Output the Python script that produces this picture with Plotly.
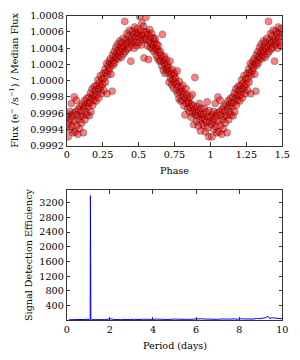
import plotly.graph_objects as go

# Phase-folded light curve (phase 0-1); phases < 0.5 are repeated at phase+1
phase = [
    0.003,0.007,0.011,0.015,0.019,0.022,0.026,0.030,0.033,0.037,0.041,0.044,0.048,
    0.052,0.055,0.059,0.063,0.067,0.070,0.074,0.078,0.081,0.085,0.089,0.092,0.096,
    0.101,0.104,0.108,0.112,0.116,0.119,0.123,0.127,0.131,0.134,0.138,0.142,0.146,
    0.151,0.154,0.158,0.162,0.166,0.169,0.173,0.177,0.181,0.184,0.188,0.192,0.196,
    0.201,0.204,0.208,0.212,0.216,0.219,0.223,0.227,0.231,0.234,0.238,0.242,0.246,
    0.251,0.254,0.258,0.262,0.266,0.269,0.273,0.277,0.281,0.284,0.288,0.292,0.296,
    0.301,0.304,0.308,0.312,0.316,0.319,0.323,0.327,0.331,0.334,0.338,0.342,0.346,
    0.351,0.354,0.358,0.362,0.366,0.369,0.373,0.377,0.381,0.384,0.388,0.392,0.396,
    0.401,0.404,0.408,0.412,0.416,0.419,0.423,0.427,0.431,0.434,0.438,0.442,0.446,
    0.451,0.454,0.458,0.462,0.466,0.469,0.473,0.477,0.481,0.484,0.488,0.492,0.496,
    0.501,0.504,0.508,0.512,0.516,0.519,0.523,0.527,0.531,0.534,0.538,0.542,0.546,
    0.551,0.554,0.558,0.562,0.566,0.569,0.573,0.577,0.581,0.584,0.588,0.592,0.596,
    0.601,0.604,0.608,0.612,0.616,0.619,0.623,0.627,0.631,0.634,0.638,0.642,0.646,
    0.651,0.654,0.658,0.662,0.666,0.669,0.673,0.677,0.681,0.684,0.688,0.692,0.696,
    0.701,0.704,0.708,0.712,0.716,0.719,0.723,0.727,0.731,0.734,0.738,0.742,0.746,
    0.751,0.754,0.758,0.762,0.766,0.769,0.773,0.777,0.781,0.784,0.788,0.792,0.796,
    0.801,0.804,0.808,0.812,0.816,0.819,0.823,0.827,0.831,0.834,0.838,0.842,0.846,
    0.851,0.854,0.858,0.862,0.866,0.869,0.873,0.877,0.881,0.884,0.888,0.892,0.896,
    0.901,0.904,0.908,0.912,0.916,0.919,0.923,0.927,0.931,0.934,0.938,0.942,0.946,
    0.951,0.954,0.958,0.962,0.966,0.969,0.973,0.977,0.981,0.984,0.988,0.992,0.996,
]
flux = [
    0.99955,0.99946,0.99931,0.99958,0.99949,0.99962,0.99940,0.99953,0.99972,0.99944,0.99957,0.99936,0.99960,
    0.99980,0.99950,0.99937,0.99962,0.99976,0.99945,0.99958,0.99934,0.99965,0.99952,0.99941,0.99968,0.99956,
    0.99962,0.99948,0.99971,0.99957,0.99936,0.99966,0.99975,0.99952,0.99969,0.99961,0.99978,0.99958,0.99972,
    0.99968,0.99980,0.99957,0.99973,0.99985,0.99962,0.99978,0.99990,0.99970,0.99983,0.99976,0.99993,0.99981,
    0.99988,0.99975,0.99994,0.99983,1.00001,0.99990,0.99979,0.99997,0.99989,1.00006,0.99993,0.99984,1.00002,
    0.99996,1.00009,0.99988,1.00003,1.00014,0.99998,1.00010,1.00021,0.99984,1.00007,1.00018,1.00012,1.00024,
    1.00016,1.00027,1.00008,1.00021,0.99987,1.00032,1.00019,1.00025,1.00036,1.00022,1.00030,1.00041,1.00028,
    1.00034,1.00045,1.00027,1.00038,1.00031,1.00049,1.00036,1.00042,1.00029,1.00047,1.00039,1.00052,1.00033,
    1.00042,1.00073,1.00036,1.00050,1.00045,1.00058,1.00039,1.00047,1.00055,1.00041,1.00062,1.00049,1.00024,
    1.00052,1.00044,1.00061,1.00048,1.00057,1.00040,1.00066,1.00053,1.00047,1.00059,1.00043,1.00064,1.00055,
    1.00058,1.00047,1.00079,1.00053,1.00062,1.00044,1.00071,1.00056,1.00050,1.00067,1.00028,1.00060,1.00052,
    1.00078,1.00051,1.00060,1.00043,1.00057,1.00026,1.00049,1.00063,1.00041,1.00054,1.00046,1.00058,1.00039,
    1.00044,1.00052,1.00036,1.00048,1.00052,1.00040,1.00031,1.00045,1.00038,1.00027,1.00043,1.00035,1.00024,
    1.00036,1.00025,1.00031,1.00018,1.00057,1.00028,1.00013,1.00022,1.00030,1.00009,1.00019,1.00026,1.00014,
    1.00021,1.00010,1.00016,0.99998,1.00012,1.00024,1.00003,1.00008,0.99995,1.00014,1.00001,0.99991,1.00006,
    1.00009,0.99998,1.00003,0.99988,0.99996,1.00012,0.99984,0.99993,0.99978,0.99999,0.99986,0.99975,0.99991,
    0.99987,0.99976,0.99994,0.99981,0.99969,0.99985,0.99958,0.99978,0.99990,0.99972,0.99982,0.99966,0.99975,
    0.99973,0.99962,0.99980,0.99967,0.99955,0.99971,0.99983,0.99960,0.99969,0.99946,0.99964,1.00004,0.99958,
    0.99961,0.99950,0.99968,0.99957,0.99944,0.99963,0.99972,0.99953,0.99938,0.99959,0.99966,0.99947,0.99955,
    0.99958,0.99945,0.99966,0.99952,0.99937,0.99961,0.99949,0.99974,0.99942,0.99956,0.99931,0.99963,0.99950,
]

# Periodogram
periods = [
    0.10,0.25,0.40,0.55,0.70,0.85,1.00,1.06,1.09,1.10,1.11,1.12,1.15,
    1.30,1.45,1.60,1.75,1.90,2.05,2.20,2.35,2.50,2.65,2.80,2.95,3.10,3.25,3.40,3.55,3.70,3.85,
    4.00,4.15,4.30,4.45,4.60,4.75,4.90,5.05,5.20,5.35,5.50,5.65,5.80,5.95,6.10,6.25,6.40,6.55,
    6.70,6.85,7.00,7.15,7.30,7.45,7.60,7.75,7.90,8.05,8.20,8.35,8.50,8.65,8.80,8.95,9.10,9.25,
    9.32,9.40,9.55,9.70,9.85,10.00,
]
sde = [
    18,22,16,25,19,27,21,24,30,3390,35,23,20,
    17,26,19,22,31,42,24,18,21,27,19,23,29,20,24,32,26,21,
    28,35,23,30,25,33,27,36,29,38,31,27,34,40,32,45,37,30,
    41,35,29,38,33,27,36,42,31,44,38,47,40,35,52,46,61,78,
    120,58,70,64,49,43,
]

phase_ticks = [0, 0.25, 0.5, 0.75, 1, 1.25, 1.5]
phase_labels = ["0", "0.25", "0.5", "0.75", "1", "1.25", "1.5"]
flux_ticks = [0.9992, 0.9994, 0.9996, 0.9998, 1.0000, 1.0002, 1.0004, 1.0006, 1.0008]
period_ticks = [0, 2, 4, 6, 8, 10]
sde_ticks = [400, 800, 1200, 1600, 2000, 2400, 2800, 3200]

x_all = phase + [p + 1 for p in phase if p < 0.5]
y_all = flux + [f for p, f in zip(phase, flux) if p < 0.5]

FONT = "DejaVu Serif"
fs = 9.6
W, H = 300, 360
xdom = [66.7 / W, 282.3 / W]

fig = go.Figure()
fig.add_trace(go.Scatter(
    x=x_all, y=y_all, mode="markers", xaxis="x", yaxis="y",
    marker=dict(size=7, color="red", opacity=0.5, line=dict(color="black", width=0.7)),
    showlegend=False, hoverinfo="skip"))
fig.add_trace(go.Scatter(
    x=periods, y=sde, mode="lines", xaxis="x2", yaxis="y2",
    line=dict(color="blue", width=1), showlegend=False, hoverinfo="skip"))

axis_common = dict(showline=True, mirror="ticks", linecolor="#333", linewidth=1,
                   ticks="inside", ticklen=3.5, tickcolor="#333", tickwidth=1,
                   showgrid=False, zeroline=False, automargin=False,
                   tickfont=dict(family=FONT, size=fs, color="black"))

fig.update_layout(
    template="none",
    width=W, height=H, margin=dict(l=0, r=0, t=0, b=0, pad=0),
    paper_bgcolor="white", plot_bgcolor="white",
    xaxis=dict(domain=xdom, range=[0, 1.5], tickvals=phase_ticks, ticktext=phase_labels,
               anchor="y", **axis_common),
    yaxis=dict(domain=[1 - 145.7 / H, 1 - 15.7 / H], range=[0.9992, 1.0008],
               tickvals=flux_ticks, tickformat=".4f", anchor="x", **axis_common),
    xaxis2=dict(domain=xdom, range=[0, 10], tickvals=period_ticks, anchor="y2", **axis_common),
    yaxis2=dict(domain=[1 - 320 / H, 1 - 190 / H], range=[11, 3545],
                tickvals=sde_ticks, anchor="x2", **axis_common),
    annotations=[
        dict(text="Flux (e<sup>−</sup> /s<sup>−1</sup>) / Median Flux", textangle=-90,
             x=14 / W, y=1 - 80.7 / H, xref="paper", yref="paper", showarrow=False,
             font=dict(family=FONT, size=fs, color="black"), xanchor="center", yanchor="middle"),
        dict(text="Phase", x=(66.7 + 282.3) / 2 / W, y=1 - 170.5 / H, xref="paper", yref="paper",
             showarrow=False, font=dict(family=FONT, size=fs, color="black"),
             xanchor="center", yanchor="middle"),
        dict(text="Signal Detection Efficiency", textangle=-90,
             x=28 / W, y=1 - 255 / H, xref="paper", yref="paper", showarrow=False,
             font=dict(family=FONT, size=fs, color="black"), xanchor="center", yanchor="middle"),
        dict(text="Period (days)", x=(66.7 + 282.3) / 2 / W, y=1 - 345 / H, xref="paper", yref="paper",
             showarrow=False, font=dict(family=FONT, size=fs, color="black"),
             xanchor="center", yanchor="middle"),
    ],
)

fig.write_html("out.html", config={"displayModeBar": False},
               post_script="document.body.style.margin='0px';")
